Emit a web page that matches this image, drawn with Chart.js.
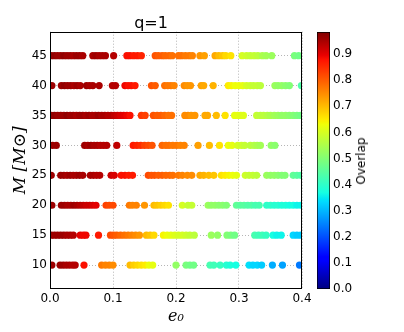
<!DOCTYPE html>
<html>
<head>
<meta charset="utf-8">
<script src="https://cdn.jsdelivr.net/npm/chart.js@4.4.0/dist/chart.umd.min.js"></script>
<style>
  body { margin: 0; background: #fff; }
  #wrap { position: relative; width: 404px; height: 332px; }
  #wrap canvas { position: absolute; left: 0; top: 0; }
  #cbLabel {
    position: absolute; left: 361px; top: 161px;
    transform: translate(-50%, -50%) rotate(-90deg);
    font: 12px "DejaVu Sans"; color: #000; white-space: nowrap;
  }
</style>
</head>
<body>
<div id="wrap">
  <canvas id="scatterChart" width="404" height="332"></canvas>
  <canvas id="colorbarChart" width="404" height="332"></canvas>
  <div id="cbLabel">Overlap</div>
</div>
<script>
// tick labels
const xTicks = [0, 0.1, 0.2, 0.3, 0.4];
const yTicks = [10, 15, 20, 25, 30, 35, 40, 45];
const cbTicks = [0, 0.1, 0.2, 0.3, 0.4, 0.5, 0.6, 0.7, 0.8, 0.9];
const cbMax = 0.985;

// total mass rows (M_sun)
const masses = [45, 40, 35, 30, 25, 20, 15, 10];

// eccentricity e0 and overlap for each mass row
const e45 = [0.002,0.007,0.012,0.017,0.022,0.027,0.032,0.037,0.042,0.047,0.052, 0.068,0.073,0.078,0.083,0.088, 0.101, 0.122,0.127,0.133,0.139,0.145, 0.167,0.172,0.178,0.183,0.189,0.194, 0.204,0.209,0.215,0.221,0.226, 0.238,0.245, 0.262,0.268,0.274,0.279,0.287, 0.305,0.312,0.318,0.324,0.330,0.337,0.343,0.352, 0.388,0.395];
const ov45 = [0.96,0.97,0.96,0.96,0.97,0.96,0.96,0.95,0.96,0.96,0.95, 0.95,0.96,0.95,0.95,0.95, 0.94, 0.88,0.88,0.87,0.87,0.86, 0.81,0.80,0.80,0.79,0.79,0.78, 0.78,0.78,0.77,0.77,0.76, 0.74,0.73, 0.72,0.70,0.69,0.67,0.66, 0.60,0.59,0.58,0.58,0.57,0.55,0.54,0.53, 0.49,0.48];

const e40 = [0.003, 0.018,0.023,0.028,0.033,0.038,0.043,0.048, 0.058,0.063,0.068, 0.078, 0.099,0.104, 0.119,0.124,0.129,0.135, 0.161,0.167, 0.182,0.187,0.192,0.197, 0.213,0.218,0.223, 0.240,0.244, 0.259, 0.283,0.288,0.294,0.300,0.306,0.312,0.318,0.323,0.329,0.334, 0.357,0.362,0.368,0.374,0.380, 0.399];
const ov40 = [0.96, 0.96,0.97,0.96,0.96,0.95,0.96,0.95, 0.96,0.95,0.95, 0.95, 0.94,0.94, 0.89,0.88,0.88,0.87, 0.81,0.80, 0.78,0.77,0.77,0.76, 0.75,0.74,0.74, 0.73,0.72, 0.71, 0.65,0.64,0.63,0.63,0.62,0.60,0.59,0.58,0.58,0.57, 0.53,0.52,0.52,0.51,0.50, 0.44];

const e35 = [0.002,0.007,0.012,0.017,0.022,0.027,0.032,0.037,0.042,0.047,0.052,0.057,0.062,0.067,0.072,0.077,0.082,0.087,0.092,0.097, 0.102,0.107,0.112,0.117,0.122,0.127, 0.145,0.151, 0.164,0.170,0.176,0.182,0.188,0.193, 0.214,0.219,0.224,0.230, 0.246,0.250, 0.264, 0.278, 0.293,0.298,0.303,0.307, 0.328,0.334,0.339,0.345,0.350,0.356, 0.362,0.368,0.374,0.380,0.386,0.392,0.398];
const ov35 = [0.96,0.97,0.96,0.96,0.96,0.97,0.96,0.96,0.95,0.96,0.96,0.95,0.96,0.95,0.95,0.96,0.95,0.95,0.94,0.94, 0.93,0.92,0.91,0.90,0.89,0.88, 0.84,0.83, 0.81,0.80,0.80,0.79,0.78,0.78, 0.75,0.75,0.74,0.74, 0.72,0.72, 0.70, 0.66, 0.62,0.62,0.61,0.61, 0.58,0.57,0.57,0.56,0.55,0.54, 0.53,0.52,0.52,0.51,0.50,0.49,0.48];

const e30 = [0.004,0.010, 0.055,0.060,0.065,0.070,0.075,0.080,0.085,0.090, 0.106, 0.132,0.138,0.144, 0.150,0.156,0.162, 0.178,0.184,0.189,0.195,0.201,0.207,0.213, 0.235, 0.253, 0.269, 0.283,0.289, 0.298,0.304,0.309,0.318,0.324,0.329,0.334, 0.351,0.357];
const ov30 = [0.96,0.96, 0.96,0.95,0.96,0.95,0.95,0.94,0.94,0.94, 0.93, 0.87,0.86,0.85, 0.83,0.82,0.81, 0.79,0.78,0.78,0.77,0.77,0.76,0.76, 0.73, 0.70, 0.66, 0.63,0.62, 0.60,0.59,0.58,0.57,0.56,0.55,0.54, 0.52,0.51];

const e25 = [0.002, 0.017,0.022,0.027,0.032,0.037,0.042,0.047,0.052, 0.064,0.069,0.074,0.079, 0.097,0.102, 0.113,0.119,0.125,0.131, 0.156,0.161,0.166,0.172,0.178,0.184,0.190,0.195, 0.204,0.210,0.218,0.225, 0.238,0.244,0.252,0.260, 0.272,0.278,0.284,0.290,0.296, 0.310,0.316,0.322,0.328, 0.344,0.350,0.356,0.362,0.368,0.373, 0.386,0.392,0.398];
const ov25 = [0.96, 0.96,0.96,0.95,0.96,0.95,0.95,0.96,0.95, 0.95,0.95,0.94,0.94, 0.92,0.91, 0.88,0.88,0.87,0.87, 0.82,0.81,0.81,0.80,0.80,0.79,0.79,0.78, 0.77,0.76,0.75,0.75, 0.72,0.71,0.70,0.69, 0.66,0.65,0.64,0.63,0.62, 0.59,0.58,0.58,0.57, 0.53,0.52,0.52,0.51,0.50,0.50, 0.46,0.45,0.44];

const e20 = [0.003, 0.018,0.023,0.028,0.033,0.038,0.043,0.048, 0.053,0.058,0.063,0.068,0.073, 0.089,0.094,0.100, 0.126,0.131,0.137, 0.150, 0.165,0.170,0.176,0.182,0.188, 0.210, 0.219,0.225, 0.251,0.256,0.262,0.268,0.274,0.280, 0.296,0.302,0.308,0.314,0.320,0.326,0.332, 0.344,0.350,0.356,0.362,0.368,0.374,0.380,0.386,0.392,0.398];
const ov20 = [0.96, 0.96,0.96,0.95,0.95,0.96,0.95,0.94, 0.93,0.92,0.92,0.91,0.90, 0.83,0.82,0.82, 0.77,0.76,0.76, 0.74, 0.70,0.69,0.68,0.67,0.66, 0.60, 0.58,0.58, 0.53,0.52,0.52,0.51,0.51,0.50, 0.46,0.45,0.45,0.44,0.44,0.43,0.43, 0.40,0.40,0.39,0.39,0.38,0.38,0.37,0.37,0.36,0.36];

const e15 = [0.002,0.007,0.012,0.017,0.022,0.027,0.032,0.037, 0.048,0.053,0.057, 0.077, 0.096,0.101,0.106,0.112,0.118,0.124,0.130,0.136,0.142, 0.153,0.159,0.165, 0.180,0.186,0.192,0.198,0.204,0.210,0.216,0.222,0.229, 0.256,0.266, 0.281,0.287,0.293, 0.325,0.331,0.337,0.343, 0.354,0.360,0.367, 0.386,0.392,0.398];
const ov15 = [0.97,0.96,0.96,0.96,0.96,0.95,0.95,0.94, 0.90,0.89,0.89, 0.87, 0.82,0.81,0.80,0.79,0.78,0.77,0.76,0.75,0.74, 0.70,0.69,0.67, 0.64,0.63,0.62,0.61,0.60,0.60,0.59,0.58,0.57, 0.53,0.52, 0.50,0.49,0.48, 0.43,0.42,0.42,0.41, 0.37,0.36,0.36, 0.33,0.32,0.32];

const e10 = [0.003, 0.016,0.021,0.026,0.031,0.036,0.040, 0.054, 0.082,0.088,0.094,0.100, 0.127,0.133,0.139,0.145,0.151,0.157,0.163, 0.200, 0.216,0.222,0.228, 0.254,0.260, 0.270, 0.280,0.286, 0.295, 0.316,0.322,0.329,0.336, 0.353, 0.369, 0.396];
const ov10 = [0.96, 0.96,0.96,0.95,0.95,0.94,0.94, 0.88, 0.77,0.76,0.76,0.75, 0.70,0.68,0.67,0.66,0.65,0.63,0.62, 0.52, 0.49,0.48,0.48, 0.43,0.42, 0.41, 0.39,0.38, 0.37, 0.34,0.33,0.33,0.32, 0.29, 0.28, 0.24];

const eRows = [e45, e40, e35, e30, e25, e20, e15, e10];
const ovRows = [ov45, ov40, ov35, ov30, ov25, ov20, ov15, ov10];

// matplotlib "jet" colormap segments
const jetR = [[0, 0], [0.35, 0], [0.66, 1], [0.89, 1], [1, 0.5]];
const jetG = [[0, 0], [0.125, 0], [0.375, 1], [0.64, 1], [0.91, 0], [1, 0]];
const jetB = [[0, 0.5], [0.11, 1], [0.34, 1], [0.65, 0], [1, 0]];
const jetStops = [0, 0.11, 0.125, 0.34, 0.35, 0.375, 0.64, 0.65, 0.66, 0.89, 0.91, 1];

function segValue(seg, t) {
    for (let i = 1; i < seg.length; i++) {
        if (t <= seg[i][0]) {
            const [t0, v0] = seg[i - 1];
            const [t1, v1] = seg[i];
            return v0 + (v1 - v0) * (t - t0) / (t1 - t0);
        }
    }
    return seg[seg.length - 1][1];
}

function jet(t) {
    t = Math.max(0, Math.min(1, t));
    const r = Math.round(255 * segValue(jetR, t));
    const g = Math.round(255 * segValue(jetG, t));
    const b = Math.round(255 * segValue(jetB, t));
    return `rgb(${r},${g},${b})`;
}

const datasets = masses.map((m, k) => ({
    label: "M=" + m,
    data: eRows[k].map((e, i) => ({ x: e, y: m, v: ovRows[k][i] })),
    pointRadius: 3.6,
    pointHoverRadius: 3.6,
    borderWidth: 0,
    backgroundColor: ctx => ctx.raw ? jet(ctx.raw.v / cbMax) : "#000",
    clip: 0
}));

const framePlugin = {
    id: "frame",
    afterDatasetsDraw(chart) {
        const { ctx, chartArea: a } = chart;
        ctx.save();
        ctx.strokeStyle = "#000";
        ctx.lineWidth = 1;
        const l = Math.round(a.left) + 0.5, t = Math.round(a.top) + 0.5;
        const r = Math.round(a.right) - 0.5, b = Math.round(a.bottom) - 0.5;
        ctx.strokeRect(l, t, r - l, b - t);
        ctx.restore();
    }
};

const tickFont = { family: "DejaVu Sans", size: 12 };

new Chart(document.getElementById("scatterChart"), {
    type: "scatter",
    data: { datasets: datasets },
    options: {
        responsive: false,
        animation: false,
        events: [],
        layout: { padding: { left: 0, right: 102, top: 0, bottom: 0 } },
        plugins: {
            legend: { display: false },
            tooltip: { enabled: false },
            title: {
                display: true,
                text: "q=1",
                color: "#000",
                font: { family: "DejaVu Sans", size: 16, weight: "normal" },
                padding: { top: 14, bottom: -1.5 }
            }
        },
        scales: {
            x: {
                type: "linear",
                min: 0,
                max: 0.4,
                afterBuildTicks: scale => { scale.ticks = xTicks.map(v => ({ value: v })); },
                afterFit: scale => { scale.height = 43; },
                ticks: { color: "#000", font: tickFont, padding: 3, maxRotation: 0, callback: v => v.toFixed(1) },
                grid: { color: "#b5b5b5", lineWidth: 1, drawTicks: false },
                border: { display: false, dash: [1, 2] },
                title: {
                    display: true,
                    text: "e₀",
                    color: "#000",
                    font: { family: "DejaVu Serif", size: 16, style: "italic" },
                    padding: { top: 0, bottom: 6 }
                }
            },
            y: {
                type: "linear",
                min: 6,
                max: 49,
                afterBuildTicks: scale => { scale.ticks = yTicks.map(v => ({ value: v })); },
                afterFit: scale => { scale.width = 50; },
                ticks: { color: "#000", font: tickFont, padding: 3 },
                grid: { color: "#b5b5b5", lineWidth: 1, drawTicks: false },
                border: { display: false, dash: [1, 2] },
                title: {
                    display: true,
                    text: "M [M⊙]",
                    color: "#000",
                    font: { family: "DejaVu Serif", size: 17, style: "italic" },
                    padding: { top: 10, bottom: 0 }
                }
            }
        }
    },
    plugins: [framePlugin]
});

// colorbar: one floating bar filled with the jet gradient
new Chart(document.getElementById("colorbarChart"), {
    type: "bar",
    data: {
        labels: ["Overlap"],
        datasets: [{
            data: [[0, cbMax]],
            categoryPercentage: 1,
            barPercentage: 1,
            borderWidth: 1,
            borderColor: "#000",
            borderSkipped: false,
            backgroundColor: ctx => {
                const chart = ctx.chart;
                if (!chart.chartArea) return "#000";
                const y = chart.scales.y;
                const grad = chart.ctx.createLinearGradient(0, y.getPixelForValue(0), 0, y.getPixelForValue(cbMax));
                jetStops.forEach(s => grad.addColorStop(s, jet(s)));
                return grad;
            }
        }]
    },
    options: {
        responsive: false,
        animation: false,
        events: [],
        layout: { padding: { left: 317, right: 0, top: 32, bottom: 43 } },
        plugins: { legend: { display: false }, tooltip: { enabled: false } },
        scales: {
            x: { display: false },
            y: {
                position: "right",
                min: 0,
                max: cbMax,
                afterBuildTicks: scale => { scale.ticks = cbTicks.map(v => ({ value: v })); },
                afterFit: scale => { scale.width = 74; },
                ticks: { color: "#000", font: tickFont, padding: 3, callback: v => v.toFixed(1) },
                grid: { display: false, drawTicks: false },
                border: { display: false }
            }
        }
    }
});
</script>
</body>
</html>
